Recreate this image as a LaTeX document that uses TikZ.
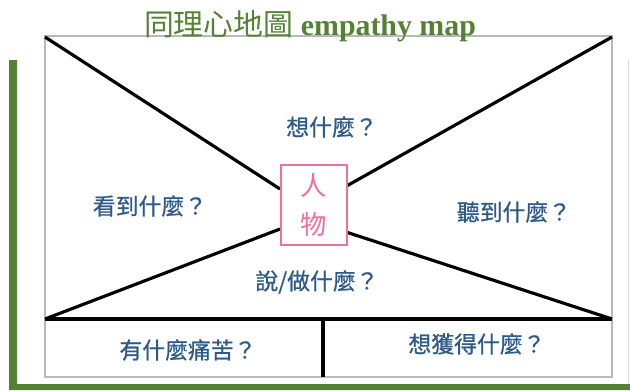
\documentclass[tikz,border=0pt]{standalone}
\usepackage{fontspec}
\setmainfont{Liberation Serif}
\newfontfamily\cjk{Noto Sans CJK TC}
\newfontfamily\cjkm[FakeBold=0.8]{Noto Sans CJK TC}
\usetikzlibrary{positioning}
\definecolor{mapgreen}{HTML}{548235}
\definecolor{askblue}{HTML}{2E5A88}
\definecolor{whopink}{HTML}{F0709A}
\tikzset{
  ask/.style={font=\cjkm\fontsize{13}{15}\selectfont, text=askblue, inner sep=0pt},
  split/.style={black, line width=1.8pt},
}
\begin{document}
\begin{tikzpicture}[x=0.02cm,y=-0.02cm]
\useasboundingbox (0,0) rectangle (630,390);
% green frame
\fill[mapgreen] (9,60) -- (17,60) -- (17,384) -- (630,384) -- (630,390) -- (9,390) -- cycle;
\draw[gray!30,line width=0.5pt] (628,60) -- (628,384);
% outer box
\draw[gray!55,line width=0.6pt] (45,36) rectangle (612,377);
\coordinate (tl) at (45,37);
\coordinate (tr) at (612,37);
\coordinate (ml) at (45,319);
\coordinate (mr) at (612,319);
\coordinate (tm) at (323,319);
\coordinate (bm) at (323,377);
\coordinate (ul) at (280,189);
\coordinate (ur) at (343,188);
\coordinate (ll) at (280,229);
\coordinate (lr) at (343,231);
\draw[split] (tl) -- (ul);
\draw[split] (tr) -- (ur);
\draw[split] (ml) -- (ll);
\draw[split] (mr) -- (lr);
\draw[split] (ml) -- (mr);
\draw[split] (tm) -- (bm);
% person in the middle
\node[draw=whopink,line width=1.2pt,fill=white,minimum width=1.32cm,minimum height=1.6cm,
  align=center,text=whopink,font=\cjk\fontsize{15}{22.5}\selectfont] (who) at (314,205) {人\\物};
% questions
\node[ask] (think) at (332,127) {想什麼？};
\node[ask] (see) at (150,206) {看到什麼？};
\node[ask] (hear) at (514,212) {聽到什麼？};
\node[ask] (do) at (317,282) {說/做什麼？};
\node[ask] (pain) at (188,350) {有什麼痛苦？};
\node[ask] (gain) at (477,344) {想獲得什麼？};
% title
\node[anchor=base,text=mapgreen,inner sep=0pt,font=\fontsize{17}{20}\selectfont] (title) at (310,35)
  {{\cjk 同理心地圖} \textbf{empathy map}};
\end{tikzpicture}
\end{document}
